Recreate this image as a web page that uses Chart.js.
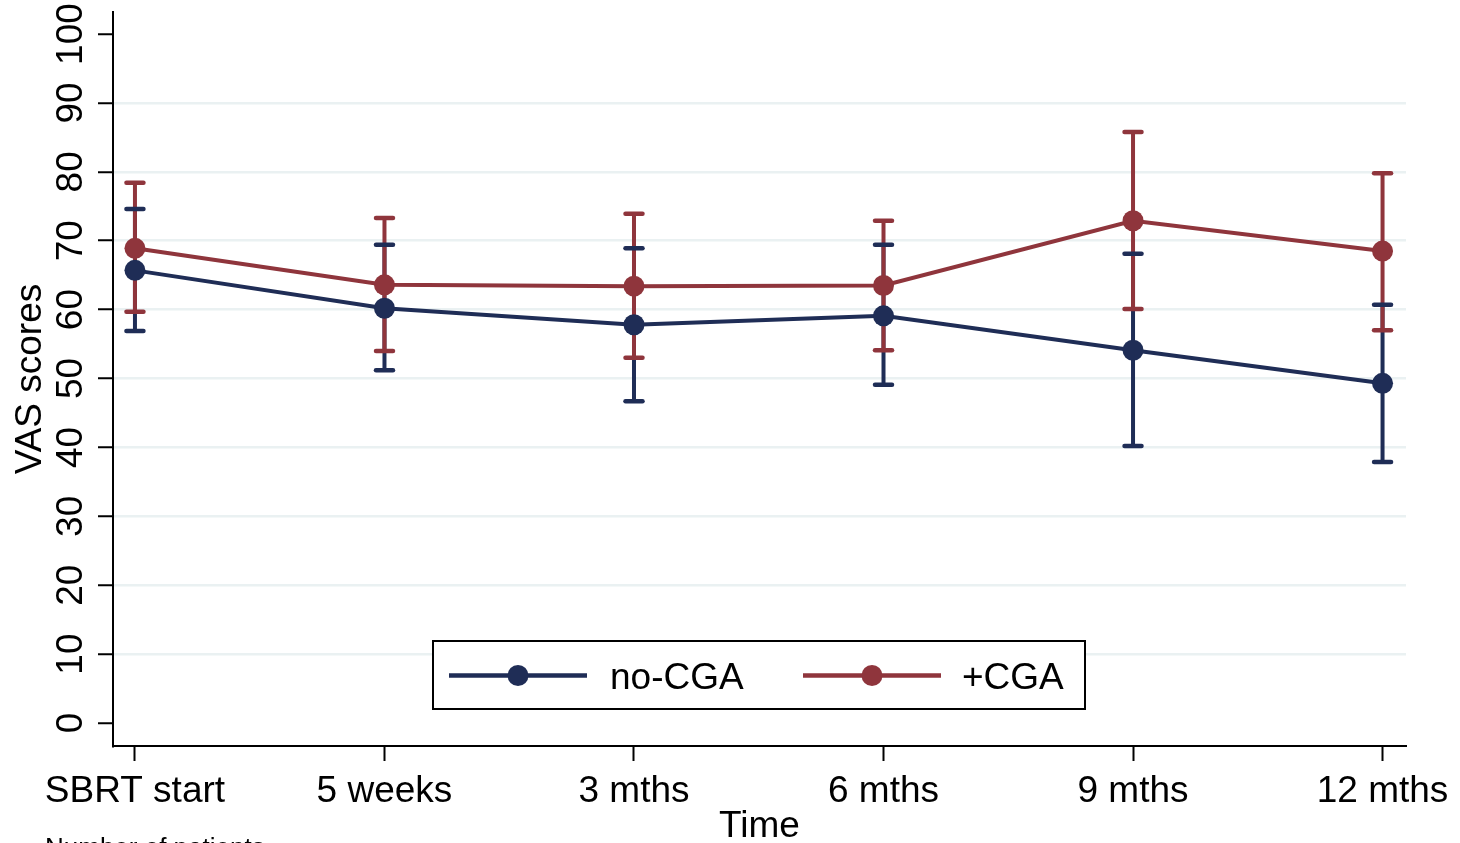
<!DOCTYPE html>
<html>
<head>
<meta charset="utf-8">
<script src="https://cdn.jsdelivr.net/npm/chart.js@4"></script>
<style>
  html, body { margin: 0; padding: 0; background: #ffffff; }
  canvas { display: block; }
</style>
</head>
<body>
<canvas id="c" width="1460" height="843"></canvas>
<script>
// ---- data ----
const categories = ['SBRT start', '5 weeks', '3 mths', '6 mths', '9 mths', '12 mths'];
const seriesNames = ['no-CGA', '+CGA'];
const noCgaMean = [65.7, 60.2, 57.8, 59.1, 54.1, 49.3];
const noCgaLow  = [56.9, 51.2, 46.7, 49.1, 40.2, 37.9];
const noCgaHigh = [74.6, 69.4, 68.9, 69.4, 68.1, 60.7];
const cgaMean = [68.9, 63.6, 63.4, 63.5, 72.9, 68.5];
const cgaLow  = [59.7, 54.0, 53.0, 54.1, 60.1, 57.0];
const cgaHigh = [78.4, 73.3, 73.9, 72.9, 85.8, 79.8];
const yTicks = [0, 10, 20, 30, 40, 50, 60, 70, 80, 90, 100];
const yTitle = 'VAS scores';
const xTitle = 'Time';
const footnote = 'Number of patients';

const NAVY = '#1f2d56';
const RED = '#8f353c';
const GRID = '#eaf1f2';
const FONT = '"Liberation Sans", Arial, sans-serif';
const FS = 37;

const toPts = arr => arr.map((v, i) => ({ x: i, y: v }));

const series = [
  { mean: noCgaMean, low: noCgaLow, high: noCgaHigh, color: NAVY, name: seriesNames[0] },
  { mean: cgaMean, low: cgaLow, high: cgaHigh, color: RED, name: seriesNames[1] }
];

const errorBars = {
  id: 'errorBars',
  beforeDatasetsDraw(chart) {
    const ctx = chart.ctx, xs = chart.scales.x, ys = chart.scales.y;
    ctx.save();
    ctx.lineCap = 'butt';
    series.forEach(s => {
      ctx.strokeStyle = s.color;
      ctx.lineWidth = 4;
      s.mean.forEach((m, i) => {
        const px = xs.getPixelForValue(i);
        ctx.beginPath();
        ctx.moveTo(px, ys.getPixelForValue(s.low[i]));
        ctx.lineTo(px, ys.getPixelForValue(s.high[i]));
        ctx.stroke();
      });
    });
    ctx.lineCap = 'round';
    series.forEach(s => {
      ctx.strokeStyle = s.color;
      ctx.lineWidth = 4.5;
      s.mean.forEach((m, i) => {
        const px = xs.getPixelForValue(i);
        [s.low[i], s.high[i]].forEach(v => {
          const py = ys.getPixelForValue(v);
          ctx.beginPath();
          ctx.moveTo(px - 8.5, py);
          ctx.lineTo(px + 8.5, py);
          ctx.stroke();
        });
      });
    });
    ctx.restore();
  }
};

const labelsPlugin = {
  id: 'labelsPlugin',
  afterDraw(chart) {
    const ctx = chart.ctx, xs = chart.scales.x, ys = chart.scales.y, ca = chart.chartArea;
    ctx.save();
    ctx.fillStyle = '#000';
    ctx.font = FS + 'px ' + FONT;
    yTicks.forEach(v => {
      const py = ys.getPixelForValue(v);
      ctx.save();
      ctx.translate(82, py);
      ctx.rotate(-Math.PI / 2);
      ctx.textAlign = 'center';
      ctx.textBaseline = 'alphabetic';
      ctx.fillText(String(v), 0, 0);
      ctx.restore();
    });
    ctx.textAlign = 'center';
    ctx.textBaseline = 'alphabetic';
    categories.forEach((c, i) => {
      ctx.fillText(c, xs.getPixelForValue(i), 802);
    });
    ctx.fillText(xTitle, (ca.left + ca.right) / 2, 837);
    ctx.save();
    ctx.translate(41, (ca.top + ca.bottom) / 2);
    ctx.rotate(-Math.PI / 2);
    ctx.fillText(yTitle, 0, 0);
    ctx.restore();

    // legend
    const bx = 433, by = 641, bw = 652, bh = 68;
    ctx.fillStyle = '#fff';
    ctx.fillRect(bx, by, bw, bh);
    ctx.strokeStyle = '#000';
    ctx.lineWidth = 2;
    ctx.strokeRect(bx, by, bw, bh);
    const items = [
      { x0: 449, x1: 587, tx: 610 },
      { x0: 803, x1: 941, tx: 962 }
    ];
    series.forEach((s, k) => {
      const it = items[k];
      const ly = 675.5;
      ctx.strokeStyle = s.color;
      ctx.lineWidth = 4.5;
      ctx.lineCap = 'butt';
      ctx.beginPath();
      ctx.moveTo(it.x0, ly);
      ctx.lineTo(it.x1, ly);
      ctx.stroke();
      ctx.fillStyle = s.color;
      ctx.beginPath();
      ctx.arc((it.x0 + it.x1) / 2, ly, 10.5, 0, Math.PI * 2);
      ctx.fill();
      ctx.fillStyle = '#000';
      ctx.font = FS + 'px ' + FONT;
      ctx.textAlign = 'left';
      ctx.fillText(s.name, it.tx, 689);
    });

    ctx.font = '26px ' + FONT;
    ctx.textAlign = 'left';
    ctx.fillStyle = '#000';
    ctx.fillText(footnote, 45, 856);
    ctx.restore();
  }
};

new Chart(document.getElementById('c'), {
  type: 'line',
  data: {
    datasets: [
      {
        label: seriesNames[1], data: toPts(cgaMean),
        borderColor: RED, backgroundColor: RED, borderWidth: 4,
        pointRadius: 10.5, pointBorderWidth: 0, pointBackgroundColor: RED, tension: 0
      },
      {
        label: seriesNames[0], data: toPts(noCgaMean),
        borderColor: NAVY, backgroundColor: NAVY, borderWidth: 4,
        pointRadius: 10.5, pointBorderWidth: 0, pointBackgroundColor: NAVY, tension: 0
      }
    ]
  },
  options: {
    responsive: false,
    animation: false,
    devicePixelRatio: 1,
    layout: { padding: { top: 12, right: 54, left: 0, bottom: 0 } },
    plugins: { legend: { display: false }, tooltip: { enabled: false } },
    scales: {
      x: {
        type: 'linear',
        min: -0.088, max: 5.094,
        afterBuildTicks: s => { s.ticks = categories.map((c, i) => ({ value: i })); },
        afterFit: s => { s.height = 97; },
        ticks: { display: false },
        grid: { drawOnChartArea: false, drawTicks: true, tickLength: 15, tickColor: '#000', tickWidth: 2 },
        border: { display: true, color: '#000', width: 2 }
      },
      y: {
        type: 'linear',
        min: -3.34, max: 103.2,
        afterBuildTicks: s => { s.ticks = yTicks.map(v => ({ value: v })); },
        afterFit: s => { s.width = 113; },
        ticks: { display: false },
        grid: {
          drawOnChartArea: true, drawTicks: true, tickLength: 15, tickColor: '#000', tickWidth: 2,
          lineWidth: 2.5,
          color: ctx => (ctx.tick && ctx.tick.value > 0 && ctx.tick.value < 100) ? GRID : 'rgba(0,0,0,0)'
        },
        border: { display: true, color: '#000', width: 2 }
      }
    }
  },
  plugins: [errorBars, labelsPlugin]
});
</script>
</body>
</html>
